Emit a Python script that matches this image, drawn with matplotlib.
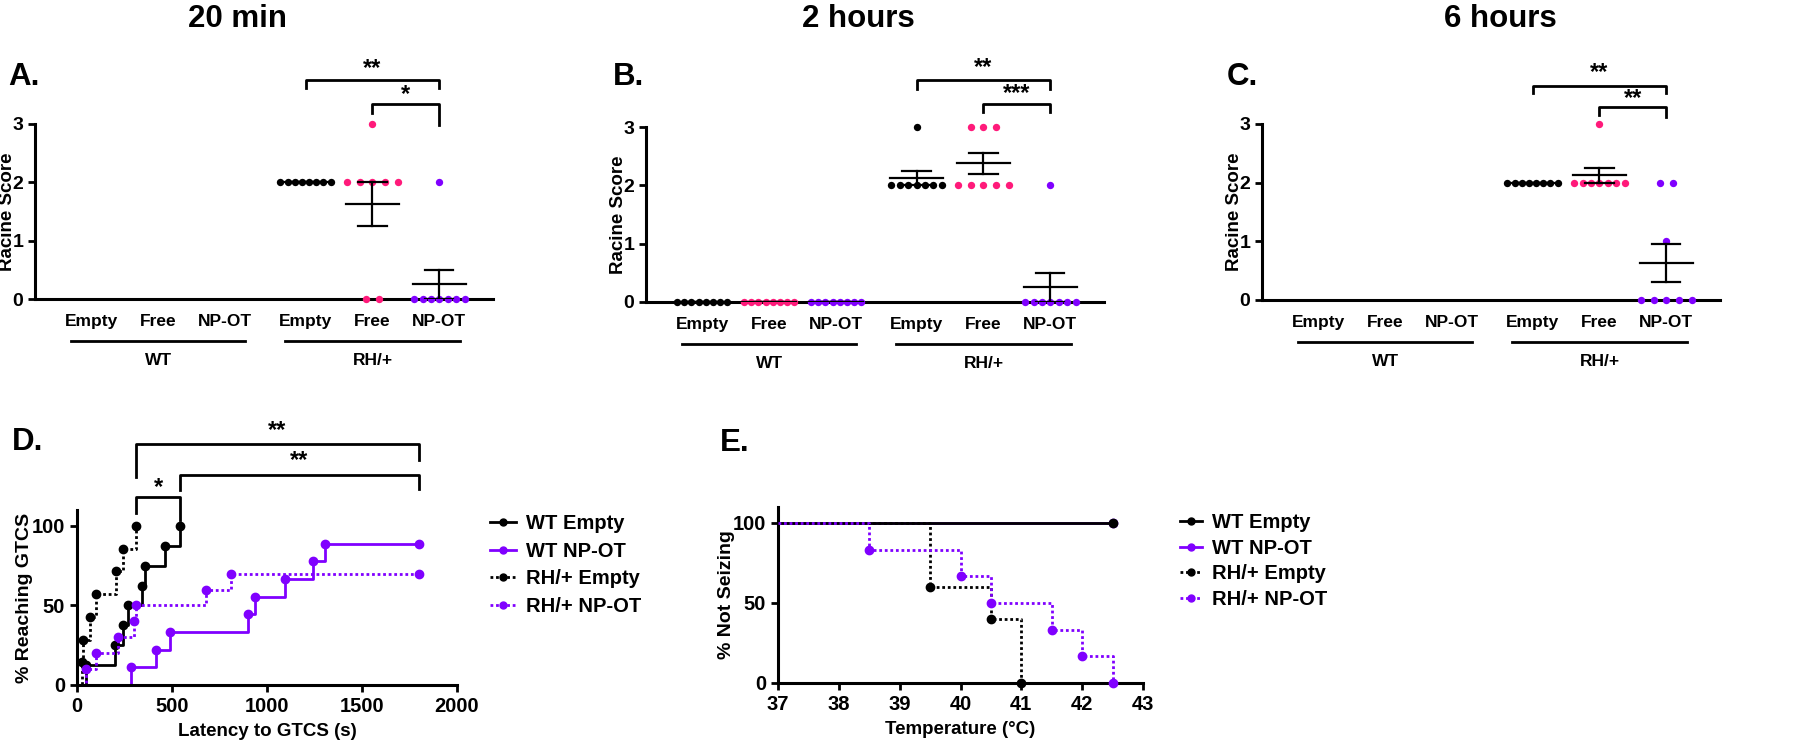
import numpy as np
import matplotlib.pyplot as plt
from matplotlib.lines import Line2D

plt.rcParams['font.family'] = ['Liberation Sans', 'DejaVu Sans']
plt.rcParams['font.weight'] = 'bold'
plt.rcParams['axes.labelweight'] = 'bold'

W, H = 1800, 745
BLACK = '#000000'
PINK = '#ff1a7a'
PURPLE = '#8000ff'

categories = ['Empty', 'Free', 'NP-OT']
genotypes = ['WT', 'RH/+']
cat_pos = [0, 1, 2, 3.2, 4.2, 5.2]
cat_colors = [BLACK, PINK, PURPLE, BLACK, PINK, PURPLE]

# Racine scores (WT groups not shown at 20 min and 6 hours)
a_wt_empty, a_wt_free, a_wt_npot = [], [], []
a_rh_empty = [2, 2, 2, 2, 2, 2, 2, 2]
a_rh_free = [3, 2, 2, 2, 2, 2, 0, 0]
a_rh_npot = [2, 0, 0, 0, 0, 0, 0, 0]

b_wt_empty = [0, 0, 0, 0, 0, 0, 0, 0]
b_wt_free = [0, 0, 0, 0, 0, 0, 0, 0]
b_wt_npot = [0, 0, 0, 0, 0, 0, 0, 0]
b_rh_empty = [3, 2, 2, 2, 2, 2, 2, 2]
b_rh_free = [3, 3, 3, 2, 2, 2, 2, 2]
b_rh_npot = [2, 0, 0, 0, 0, 0, 0, 0]

c_wt_empty, c_wt_free, c_wt_npot = [], [], []
c_rh_empty = [2, 2, 2, 2, 2, 2, 2, 2]
c_rh_free = [3, 2, 2, 2, 2, 2, 2, 2]
c_rh_npot = [2, 2, 1, 0, 0, 0, 0, 0]

# latency to GTCS (s) and cumulative % reaching GTCS
d_wt_empty_t = [0, 49, 198, 242, 267, 343, 359, 465, 542]
d_wt_empty_p = [0, 12.5, 25, 37.5, 50, 62.5, 75, 87.5, 100]
d_wt_npot_t = [0, 284, 417, 489, 901, 936, 1095, 1242, 1307, 1800]
d_wt_npot_p = [0, 11.1, 22.2, 33.3, 44.4, 55.6, 66.7, 77.8, 88.9, 88.9]
d_rh_empty_t = [0, 25, 32, 67, 101, 203, 240, 311]
d_rh_empty_p = [0, 14.3, 28.6, 42.9, 57.1, 71.4, 85.7, 100]
d_rh_npot_t = [0, 49, 99, 214, 300, 313, 678, 813, 1800]
d_rh_npot_p = [0, 10, 20, 30, 40, 50, 60, 70, 70]

# temperature (C) and % not seizing
e_wt_empty_t = [37, 42.5]
e_wt_empty_p = [100, 100]
e_wt_npot_t = [37, 42.5]
e_wt_npot_p = [100, 100]
e_rh_empty_t = [37, 39.5, 40.5, 41]
e_rh_empty_p = [100, 60, 40, 0]
e_rh_npot_t = [37, 38.5, 40, 40.5, 41.5, 42, 42.5]
e_rh_npot_p = [100, 83.3, 66.7, 50, 33.3, 16.7, 0]

legend_labels = ['WT Empty', 'WT NP-OT', 'RH/+ Empty', 'RH/+ NP-OT']

fig = plt.figure(figsize=(18, 7.45), dpi=100)


def px_axes(l, t, r, b):
    return fig.add_axes([l / W, 1 - b / H, (r - l) / W, (b - t) / H])


def style_axes(ax, size):
    for s in ['top', 'right']:
        ax.spines[s].set_visible(False)
    for s in ['left', 'bottom']:
        ax.spines[s].set_linewidth(2.2)
    ax.tick_params(width=2, length=5, labelsize=size)


def spread(vals, center):
    vals = np.array(vals, dtype=float)
    xs = np.zeros(len(vals))
    for v in np.unique(vals):
        idx = np.where(vals == v)[0]
        n = len(idx)
        step = min(0.19, 0.75 / (n - 1)) if n > 1 else 0
        xs[idx] = center + (np.arange(n) - (n - 1) / 2) * step
    return xs


def bracket(ax, x1, x2, y, yl1, yl2, txt, ty, size=17):
    ax.plot([x1, x1, x2, x2], [yl1, y, y, yl2], color=BLACK, lw=2, clip_on=False)
    ax.text((x1 + x2) / 2, ty, txt, ha='center', va='center', fontsize=size,
            fontweight='bold', clip_on=False)


def score_panel(rect, groups, brackets):
    ax = px_axes(*rect)
    style_axes(ax, 14)
    ax.set_xlim(-0.84, 6.0)
    ax.set_ylim(0, 3)
    ax.set_yticks([0, 1, 2, 3])
    ax.set_xticks([])
    ax.set_ylabel('Racine Score', fontsize=13.5)
    ax.yaxis.set_label_coords(-0.042, 0.5)
    for vals, x, col in zip(groups, cat_pos, cat_colors):
        if len(vals) == 0:
            continue
        xs = spread(vals, x)
        ax.scatter(xs, vals, s=28, color=col, zorder=3, clip_on=False, linewidths=0)
        m = np.mean(vals)
        se = np.std(vals, ddof=1) / np.sqrt(len(vals))
        ax.plot([x - 0.4, x + 0.4], [m, m], color=BLACK, lw=1.6, zorder=4)
        ax.plot([x, x], [m - se, m + se], color=BLACK, lw=1.6, zorder=4)
        for yy in [m - se, m + se]:
            ax.plot([x - 0.21, x + 0.21], [yy, yy], color=BLACK, lw=1.6, zorder=4)
    tr = ax.get_xaxis_transform()
    for g, name in enumerate(genotypes):
        xs = cat_pos[g * 3:g * 3 + 3]
        for x, c in zip(xs, categories):
            ax.text(x, -0.126, c, transform=tr, ha='center', va='center', fontsize=12.5)
        ax.plot([xs[0] - 0.3, xs[-1] + 0.3], [-0.24, -0.24], transform=tr,
                color=BLACK, lw=2, clip_on=False)
        ax.text(xs[1], -0.35, name, transform=tr, ha='center', va='center', fontsize=12.5)
    for br in brackets:
        bracket(ax, *br)
    return ax


score_panel((35, 124, 493, 299),
            [a_wt_empty, a_wt_free, a_wt_npot, a_rh_empty, a_rh_free, a_rh_npot],
            [(3.2, 5.2, 3.76, 3.62, 3.62, '**', 3.95),
             (4.2, 5.2, 3.34, 3.19, 2.98, '*', 3.5)])
score_panel((646, 127, 1104, 302),
            [b_wt_empty, b_wt_free, b_wt_npot, b_rh_empty, b_rh_free, b_rh_npot],
            [(3.2, 5.2, 3.81, 3.65, 3.65, '**', 4.02),
             (4.2, 5.2, 3.40, 3.26, 3.26, '***', 3.58)])
score_panel((1262, 124, 1720, 300),
            [c_wt_empty, c_wt_free, c_wt_npot, c_rh_empty, c_rh_free, c_rh_npot],
            [(3.2, 5.2, 3.65, 3.53, 3.53, '**', 3.88),
             (4.2, 5.2, 3.29, 3.15, 3.12, '**', 3.44)])

styles = [(BLACK, '-'), (PURPLE, '-'), (BLACK, (0, (1, 1))), (PURPLE, (0, (1, 1)))]

# D
axd = px_axes(77, 510, 457, 685)
style_axes(axd, 14.5)
axd.set_xlim(0, 2000)
axd.set_ylim(0, 110)
axd.set_xticks([0, 500, 1000, 1500, 2000])
axd.set_yticks([0, 50, 100])
axd.set_xlabel('Latency to GTCS (s)', fontsize=13.5)
axd.set_ylabel('% Reaching GTCS', fontsize=14)
axd.xaxis.set_label_coords(0.5, -0.217)
axd.yaxis.set_label_coords(-0.116, 0.5)
d_series = [(d_wt_empty_t, d_wt_empty_p), (d_wt_npot_t, d_wt_npot_p),
            (d_rh_empty_t, d_rh_empty_p), (d_rh_npot_t, d_rh_npot_p)]
for (t, p), (col, ls) in zip(d_series, styles):
    axd.step(t, p, where='post', color=col, ls=ls, lw=2, clip_on=False)
    axd.plot(t[1:], p[1:], 'o', color=col, ms=6, clip_on=False)
bracket(axd, 311, 1800, 151.6, 131, 141.5, '**', 160)
bracket(axd, 542, 1800, 132, 122.6, 123, '**', 141)
bracket(axd, 311, 542, 118, 108, 104, '*', 124)

handles = [Line2D([], [], color=c, ls=ls, lw=2, marker='o', ms=5) for c, ls in styles]
fig.legend(handles, legend_labels, loc='center left', bbox_to_anchor=(490 / W, 1 - 565 / H),
           frameon=False, fontsize=14.5, handlelength=1.3, handletextpad=0.5,
           labelspacing=0.42, borderpad=0, borderaxespad=0)

# E
axe = px_axes(778, 507, 1143, 683)
style_axes(axe, 14.5)
axe.set_xlim(37, 43)
axe.set_ylim(0, 110)
axe.set_xticks([37, 38, 39, 40, 41, 42, 43])
axe.set_yticks([0, 50, 100])
axe.set_xlabel('Temperature (°C)', fontsize=13.5)
axe.set_ylabel('% Not Seizing', fontsize=14)
axe.xaxis.set_label_coords(0.5, -0.216)
axe.yaxis.set_label_coords(-0.118, 0.5)
e_series = [(e_wt_empty_t, e_wt_empty_p), (e_wt_npot_t, e_wt_npot_p),
            (e_rh_empty_t, e_rh_empty_p), (e_rh_npot_t, e_rh_npot_p)]
for (t, p), (col, ls), z in zip(e_series, styles, [3, 2, 3, 3]):
    axe.step(t, p, where='post', color=col, ls=ls, lw=2, clip_on=False, zorder=z)
    axe.plot(t[1:], p[1:], 'o', color=col, ms=6, clip_on=False, zorder=z)
fig.legend(handles, legend_labels, loc='center left', bbox_to_anchor=(1180 / W, 1 - 561 / H),
           frameon=False, fontsize=14.5, handlelength=1.1, handletextpad=0.5,
           labelspacing=0.34, borderpad=0, borderaxespad=0)

# titles and panel letters
for x, txt in [(238, '20 min'), (858, '2 hours'), (1500, '6 hours')]:
    fig.text(x / W, 1 - 19 / H, txt, ha='center', va='center', fontsize=22.5, fontweight='bold')
for x, y, txt in [(8, 77, 'A.'), (613, 77, 'B.'), (1227, 77, 'C.'), (12, 442, 'D.'), (720, 443, 'E.')]:
    fig.text(x / W, 1 - y / H, txt, ha='left', va='center', fontsize=22.5, fontweight='bold')

fig.savefig('out.png', dpi=100)
